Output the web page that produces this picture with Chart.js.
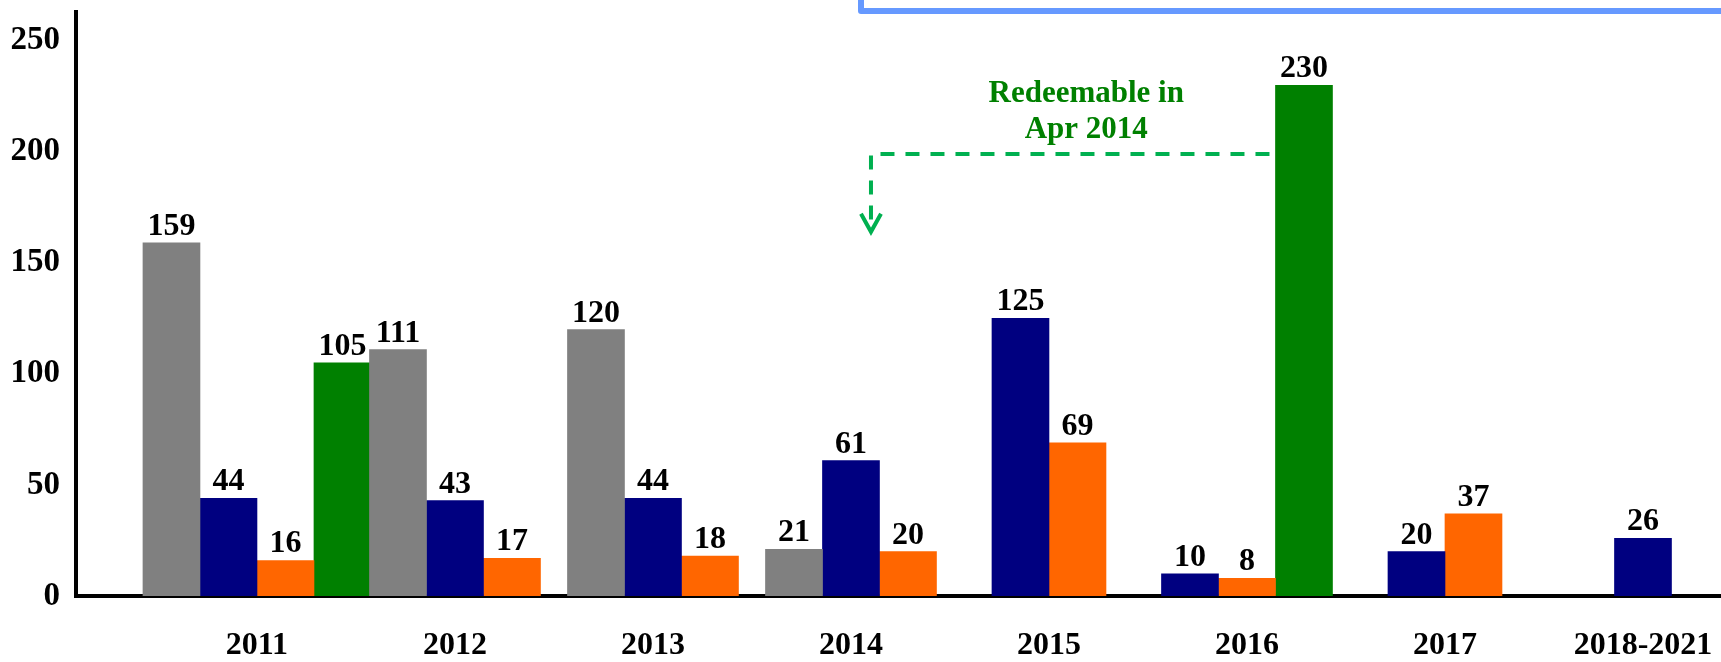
<!DOCTYPE html>
<html>
<head>
<meta charset="utf-8">
<script src="https://cdn.jsdelivr.net/npm/chart.js@4/dist/chart.umd.min.js"></script>
<style>
  html, body { margin: 0; padding: 0; background: #fff; overflow: hidden; }
  #wrap { width: 1721px; height: 662px; position: relative; }
</style>
</head>
<body>
<div id="wrap"><canvas id="chart"></canvas></div>
<script>
// categories and series
const years = ["2011", "2012", "2013", "2014", "2015", "2016", "2017", "2018-2021"];
const grayVals   = [159, 111, 120, 21, null, null, null, null];
const navyVals   = [44, 43, 44, 61, 125, 10, 20, 26];
const orangeVals = [16, 17, 18, 20, 69, 8, 37, null];
const greenVals  = [105, null, null, null, null, 230, null, null];
const yTicks = [0, 50, 100, 150, 200, 250];

const serif = "'Liberation Serif', 'Times New Roman', serif";
Chart.defaults.font.family = serif;
Chart.defaults.color = "#000";

// turn a value list into points on the index axis
function pts(vals) {
  return vals.map((v, i) => ({ x: i, y: v }));
}

function bars(vals, color) {
  return { data: pts(vals), backgroundColor: color, borderWidth: 0, barThickness: 57, skipNull: true };
}

// the axis labels may hang over the edges like in the original
function noEdgePadding(s) {
  s.paddingLeft = 0;
  s.paddingRight = 0;
  s.paddingTop = 0;
  s.paddingBottom = 0;
}

// value labels above each bar
const valueLabels = {
  id: "valueLabels",
  afterDatasetsDraw(chart) {
    const ctx = chart.ctx;
    ctx.save();
    ctx.font = "bold 32px " + serif;
    ctx.fillStyle = "#000";
    ctx.textAlign = "center";
    ctx.textBaseline = "alphabetic";
    chart.data.datasets.forEach((ds, di) => {
      const meta = chart.getDatasetMeta(di);
      meta.data.forEach((bar, i) => {
        const v = ds.data[i].y;
        if (v === null) return;
        ctx.fillText(String(v), bar.x, bar.y - 8);
      });
    });
    ctx.restore();
  }
};

// dashed arrow + note, and the edge of the box at the top
const note = {
  id: "note",
  afterDraw(chart) {
    const { ctx, scales: { y } } = chart;
    const green16 = chart.getDatasetMeta(3).data[5];
    const navy14 = chart.getDatasetMeta(1).data[3];
    const lineY = y.getPixelForValue(199);
    const tipY = y.getPixelForValue(164);
    const startX = green16.x - green16.width / 2 - 6;
    const endX = navy14.x + 20;

    ctx.save();
    ctx.strokeStyle = "#00b050";
    ctx.lineWidth = 4;
    ctx.setLineDash([14, 11]);
    ctx.beginPath();
    ctx.moveTo(startX, lineY);
    ctx.lineTo(endX, lineY);
    ctx.lineTo(endX, tipY - 6);
    ctx.stroke();
    ctx.setLineDash([]);
    ctx.beginPath();
    ctx.moveTo(endX - 10, tipY - 18);
    ctx.lineTo(endX, tipY);
    ctx.lineTo(endX + 10, tipY - 18);
    ctx.stroke();

    ctx.fillStyle = "#008000";
    ctx.font = "bold 31px " + serif;
    ctx.textAlign = "center";
    ctx.textBaseline = "middle";
    const cx = (startX + endX) / 2 + 16;
    ctx.fillText("Redeemable in", cx, y.getPixelForValue(226));
    ctx.fillText("Apr 2014", cx, y.getPixelForValue(210));

    ctx.strokeStyle = "#6699ff";
    ctx.lineWidth = 6;
    ctx.lineJoin = "round";
    ctx.beginPath();
    ctx.moveTo(861, 0);
    ctx.lineTo(861, 11);
    ctx.lineTo(chart.width + 5, 11);
    ctx.stroke();
    ctx.restore();
  }
};

new Chart(document.getElementById("chart"), {
  type: "bar",
  data: {
    datasets: [
      bars(grayVals, "#808080"),
      bars(navyVals, "#000080"),
      bars(orangeVals, "#ff6600"),
      bars(greenVals, "#008000")
    ]
  },
  options: {
    responsive: true,
    maintainAspectRatio: false,
    animation: false,
    layout: { padding: { top: 12, right: 0, bottom: 0, left: 0 } },
    plugins: { legend: { display: false }, tooltip: { enabled: false } },
    scales: {
      x: {
        type: "linear",
        min: -0.914,
        max: 7.394,
        offset: false,
        grid: { display: false, drawTicks: false },
        border: { display: true, color: "#000", width: 4 },
        afterBuildTicks: s => { s.ticks = years.map((_, i) => ({ value: i })); },
        afterFit: s => { s.height = 66; noEdgePadding(s); },
        ticks: {
          padding: 31,
          autoSkip: false,
          maxRotation: 0,
          font: { size: 32, weight: "bold" },
          callback: v => years[v]
        }
      },
      y: {
        min: 0,
        max: 263,
        grid: { display: false, drawTicks: false },
        border: { display: true, color: "#000", width: 4 },
        afterBuildTicks: s => { s.ticks = yTicks.map(v => ({ value: v })); },
        afterFit: s => { s.width = 76; noEdgePadding(s); },
        ticks: { padding: 16, font: { size: 33, weight: "bold" } }
      }
    }
  },
  plugins: [valueLabels, note]
});
</script>
</body>
</html>
